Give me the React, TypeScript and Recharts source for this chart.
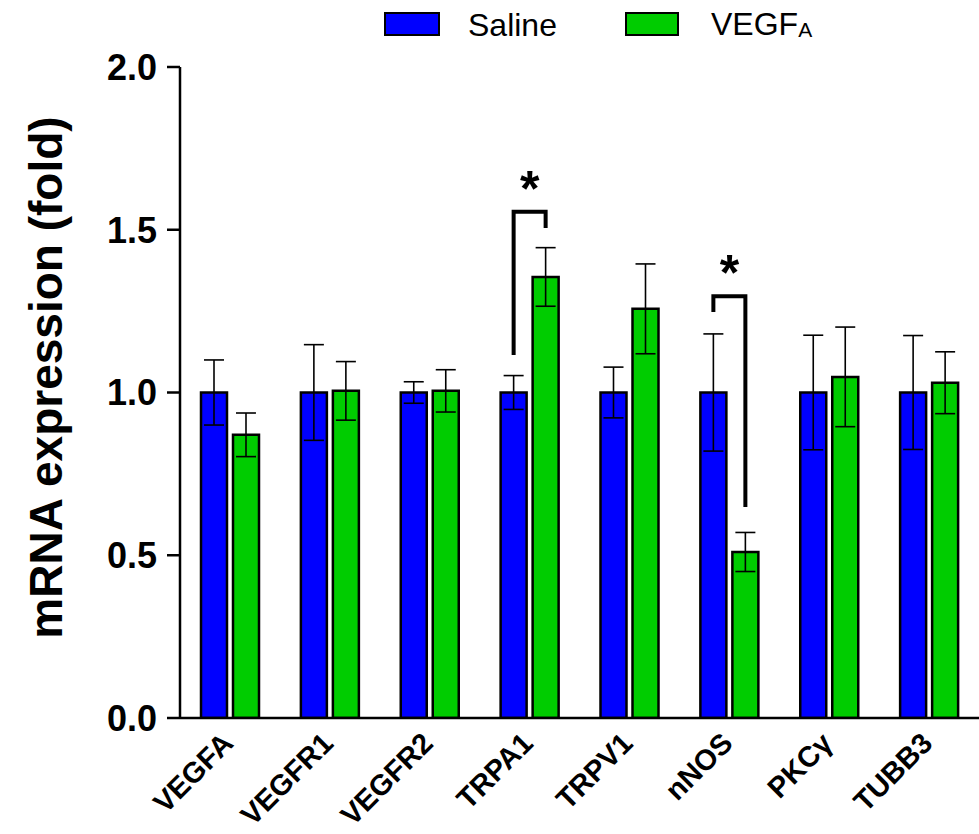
import React from 'react';
import { BarChart, Bar, XAxis, YAxis, ErrorBar, LabelList, Legend } from 'recharts';

const categories = ['VEGFA', 'VEGFR1', 'VEGFR2', 'TRPA1', 'TRPV1', 'nNOS', 'PKCγ', 'TUBB3'];
const salineValues = [1, 1, 1, 1, 1, 1, 1, 1];
const salineErrors = [0.1, 0.147, 0.033, 0.052, 0.078, 0.18, 0.176, 0.175];
const vegfaValues = [0.87, 1.005, 1.005, 1.355, 1.257, 0.51, 1.048, 1.03];
const vegfaErrors = [0.067, 0.09, 0.065, 0.09, 0.138, 0.06, 0.153, 0.095];
const yTicks = [0, 0.5, 1, 1.5, 2];

// significance brackets (value units): left leg bottom, top, right leg bottom
const sigLeftBottom = [null, null, null, 1.115, null, 1.247, null, null];
const sigTop = [null, null, null, 1.555, null, 1.296, null, null];
const sigRightBottom = [null, null, null, 1.505, null, 0.648, null, null];
const sigMark = [null, null, null, '*', null, '*', null, null];

const data = categories.map((name, i) => ({
  name,
  saline: salineValues[i],
  salineErr: salineErrors[i],
  vegfa: vegfaValues[i],
  vegfaErr: vegfaErrors[i],
}));

const FONT = 'Arial, "Liberation Sans", Helvetica, sans-serif';
const BAR_SIZE = 26;
const BAR_GAP = 6;
const BLUE = '#0000FF';
const GREEN = '#00CC00';

const BracketLabel = (props: any) => {
  const { x, y, width, height, value, index } = props;
  if (index == null || sigTop[index] == null) return null;
  const base = Number(y) + Number(height);
  const k = Number(height) / Number(value);
  const py = (v: number) => base - v * k;
  const rx = Number(x) + Number(width) / 2;
  const lx = rx - (Number(width) + BAR_GAP);
  const topY = py(sigTop[index] as number);
  return (
    <g>
      <path
        d={`M${lx},${py(sigLeftBottom[index] as number)} L${lx},${topY} L${rx},${topY} L${rx},${py(sigRightBottom[index] as number)}`}
        fill="none"
        stroke="#000"
        strokeWidth={4}
      />
      <text x={(lx + rx) / 2} y={topY - 6} textAnchor="middle" fontFamily={FONT} fontWeight="bold" fontSize={50} fill="#000">
        {sigMark[index]}
      </text>
    </g>
  );
};

const XTick = (props: any) => {
  const { x, y, payload } = props;
  const px = x + 5;
  const py = y + 27;
  return (
    <text x={px} y={py} textAnchor="end" transform={`rotate(-45, ${px}, ${py})`} fontFamily={FONT} fontWeight="bold" fontSize={29} fill="#000">
      {payload.value}
    </text>
  );
};

const LegendContent = () => (
  <svg width={979} height={48} style={{ display: 'block' }}>
    <rect x={385} y={13} width={54} height={22} fill={BLUE} stroke="#000" strokeWidth={2} />
    <text x={468} y={36} fontFamily={FONT} fontSize={32} fill="#000">Saline</text>
    <rect x={626} y={13} width={52} height={22} fill={GREEN} stroke="#000" strokeWidth={2} />
    <text x={711} y={35} fontFamily={FONT} fontSize={32} fill="#000">
      VEGF<tspan fontSize={21} dy={2}>A</tspan>
    </text>
  </svg>
);

const YLabel = (props: any) => {
  const vb = props.viewBox || { x: 0, y: 67, width: 180, height: 651 };
  const cy = vb.y + vb.height / 2 - 15;
  const cx = 62;
  return (
    <text x={cx} y={cy} textAnchor="middle" transform={`rotate(-90, ${cx}, ${cy})`} fontFamily={FONT} fontWeight="bold" fontSize={46} fill="#000">
      mRNA expression (fold)
    </text>
  );
};

export default function App() {
  return (
    <div style={{ position: 'absolute', left: 0, top: 0, width: 979, height: 834, background: '#fff' }}>
      <BarChart
        width={979}
        height={834}
        data={data}
        margin={{ top: 19, right: 0, bottom: 0, left: 0 }}
        barSize={BAR_SIZE}
        barGap={BAR_GAP}
      >
        <Legend verticalAlign="top" align="left" content={LegendContent} wrapperStyle={{ left: 0, top: 0, width: 979, height: 48 }} />
        <XAxis
          dataKey="name"
          height={116}
          tickLine={false}
          tickSize={0}
          tickMargin={0}
          axisLine={{ stroke: '#000', strokeWidth: 2.5 }}
          tick={<XTick />}
          interval={0}
        />
        <YAxis
          width={180}
          domain={[0, 2]}
          ticks={yTicks}
          tickFormatter={(v: number) => v.toFixed(1)}
          axisLine={{ stroke: '#000', strokeWidth: 2.5 }}
          tickLine={{ stroke: '#000', strokeWidth: 2.5 }}
          tickSize={13}
          tickMargin={10}
          tick={{ fill: '#000', fontFamily: FONT, fontWeight: 'bold', fontSize: 36 }}
          label={<YLabel />}
          allowDataOverflow
        />
        <Bar dataKey="saline" fill={BLUE} stroke="#000" strokeWidth={2.5} isAnimationActive={false}>
          <ErrorBar dataKey="salineErr" width={10} strokeWidth={1.6} stroke="#000" direction="y" />
        </Bar>
        <Bar dataKey="vegfa" fill={GREEN} stroke="#000" strokeWidth={2.5} isAnimationActive={false}>
          <ErrorBar dataKey="vegfaErr" width={10} strokeWidth={1.6} stroke="#000" direction="y" />
          <LabelList dataKey="vegfa" content={<BracketLabel />} />
        </Bar>
      </BarChart>
    </div>
  );
}
